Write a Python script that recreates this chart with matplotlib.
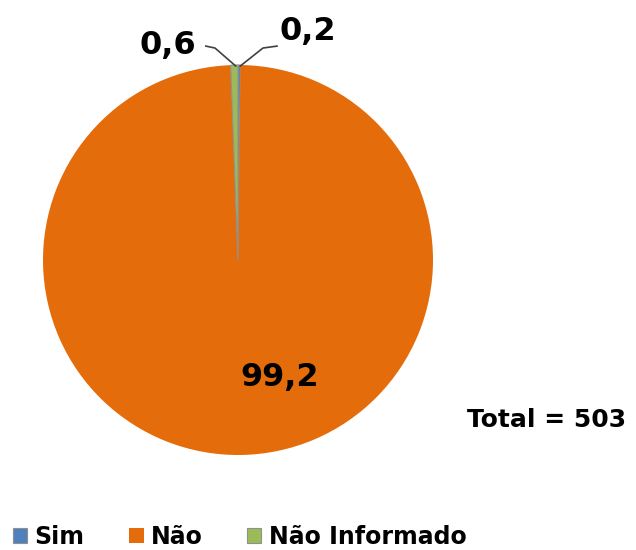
import matplotlib.pyplot as plt

# categories and percentages
categories = ['Sim', 'Não', 'Não Informado']
values = [0.2, 99.2, 0.6]
value_labels = ['0,2', '99,2', '0,6']
colors = ['#4F81BD', '#E46C0A', '#9BBB59']
total_text = 'Total = 503'

fig = plt.figure(figsize=(6.36, 5.5), dpi=100)
W, H = 636, 550
cx, cy, r = 238, 260, 195
ax = fig.add_axes([(cx - r) / W, (H - cy - r) / H, 2 * r / W, 2 * r / H])

wedges, _ = ax.pie(values, colors=colors, startangle=90, counterclock=False,
                   radius=1.0, wedgeprops=dict(linewidth=0))
for w in (wedges[0], wedges[2]):
    w.set_edgecolor('#909090')
    w.set_linewidth(0.8)
ax.set_xlim(-1, 1)
ax.set_ylim(-1, 1)
ax.set_aspect('equal')
ax.axis('off')

font = dict(fontweight='bold', fontsize=23, color='black', family='DejaVu Sans')

# big slice label
ax.text(0.215, -0.605, value_labels[1], ha='center', va='center', **font)

# small slice labels with leader lines
ax.text(-0.36, 1.10, value_labels[2], ha='center', va='center', **font, clip_on=False)
ax.plot([-0.165, -0.118, -0.012], [1.097, 1.087, 0.995], color='#404040', lw=1.2, clip_on=False)
ax.text(0.36, 1.17, value_labels[0], ha='center', va='center', **font, clip_on=False)
ax.plot([0.20, 0.128, 0.012], [1.097, 1.087, 0.995], color='#404040', lw=1.2, clip_on=False)

fig.text(0.859, 0.236, total_text, ha='center', va='center',
         fontweight='bold', fontsize=18)

leg = fig.legend(wedges, categories, loc='center', bbox_to_anchor=(0.377, 0.024),
                 ncol=3, frameon=False, handlelength=0.6, handleheight=0.6,
                 handletextpad=0.3, columnspacing=1.9,
                 prop=dict(weight='bold', size=17))

fig.savefig('out.png', dpi=100)
